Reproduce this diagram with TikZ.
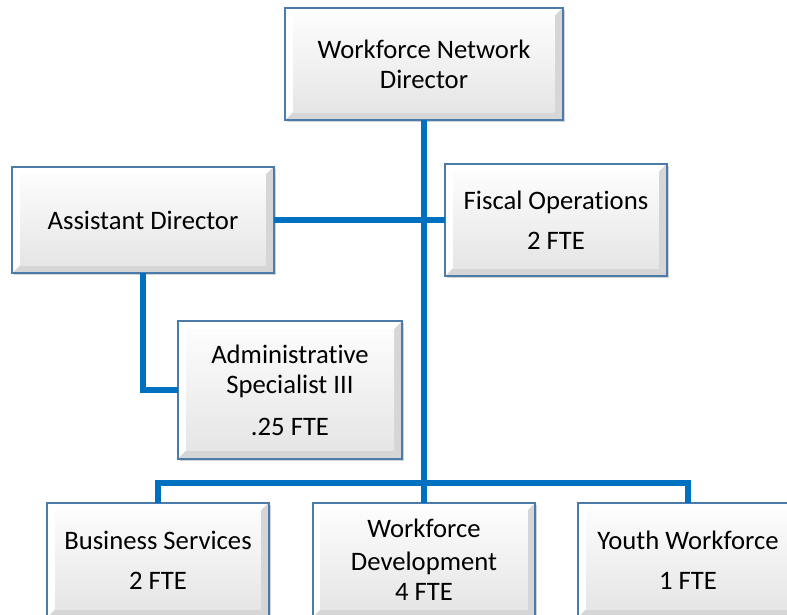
\documentclass[tikz,border=0pt]{standalone}
\usepackage{fontspec}
\setmainfont{Carlito}[Ligatures=NoCommon]
\usepackage{tikz}
\usetikzlibrary{positioning,shadows,calc}
\definecolor{linkblue}{HTML}{0070C0}
\definecolor{boxline}{HTML}{4A7BAA}

\begin{document}
\begin{tikzpicture}[x=0.75pt, y=-0.75pt,
    unit/.style={rectangle, draw=boxline, line width=1.4pt, fill=gray!15, align=center,
        inner sep=0pt, outer sep=0pt, font=\fontsize{20}{22.5}\selectfont,
        drop shadow={shadow xshift=1.5pt, shadow yshift=-1.5pt, opacity=0.35},
        path picture={
            \path (path picture bounding box.north west) coordinate (pnw)
                  (path picture bounding box.south east) coordinate (pse);
            \fill[white] (pnw) -- (pse |- pnw) -- ([xshift=-6pt,yshift=-6pt]pse |- pnw)
                -- ([xshift=6pt,yshift=-6pt]pnw) -- ([xshift=6pt,yshift=6pt]pnw |- pse)
                -- (pnw |- pse) -- cycle;
            \fill[gray!32] (pse) -- (pse |- pnw) -- ([xshift=-6pt,yshift=-6pt]pse |- pnw)
                -- ([xshift=-6pt,yshift=6pt]pse) -- ([xshift=6pt,yshift=6pt]pnw |- pse)
                -- (pnw |- pse) -- cycle;
            \shade[top color=gray!2, bottom color=gray!20]
                ([xshift=6pt,yshift=-6pt]pnw) rectangle ([xshift=-6pt,yshift=6pt]pse);
        }},
    link/.style={draw=linkblue, line width=4pt}
]
\clip (0,0) rectangle (787,614);

\node[unit, minimum width=208pt, minimum height=84pt] (director) at (424,64) {Workforce Network\\Director};
\node[unit, minimum width=196pt, minimum height=80pt] (asstdir) at (143,220) {Assistant Director};
\node[unit, minimum width=166pt, minimum height=84pt] (fiscal) at (556,220) {Fiscal Operations\\[7.5pt]2 FTE};
\node[unit, minimum width=168pt, minimum height=103pt] (admin) at (290,390) {Administrative\\Specialist III\\[9pt].25 FTE};
\node[unit, minimum width=166pt, minimum height=86pt] (business) at (158,560) {Business Services\\[7.5pt]2 FTE};
\node[unit, minimum width=167pt, minimum height=86pt] (wfdev) at (424,560) {Workforce\\[2pt]Development\\4 FTE};
\node[unit, minimum width=165pt, minimum height=86pt] (youth) at (688,560) {Youth Workforce\\[7.5pt]1 FTE};

\coordinate (bus) at (424,483);

\draw[link] (director.south) -- (bus);
\draw[link] (asstdir.east) -- (fiscal.west);
\draw[link] (asstdir.south) |- (admin.west);
\draw[link] (business.north) -- (business.north |- bus) -- (youth.north |- bus) -- (youth.north);
\draw[link] (bus) -- (wfdev.north);

\end{tikzpicture}
\end{document}
